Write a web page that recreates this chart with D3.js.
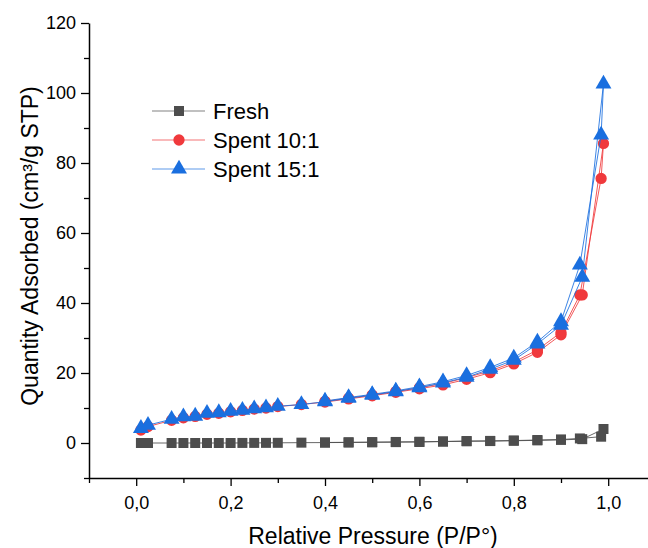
<!DOCTYPE html>
<html>
<head>
<meta charset="utf-8">
<script src="https://cdn.jsdelivr.net/npm/d3@7"></script>
<style>
  body { margin: 0; background: #fff; }
  text { font-family: "Liberation Sans", Arial, sans-serif; }
</style>
</head>
<body>
<div id="chart"></div>
<script>
// relative pressure points, adsorption branch then desorption branch
const pressureAds = [0.01, 0.025, 0.075, 0.1, 0.125, 0.15, 0.175, 0.2, 0.225, 0.25, 0.275, 0.3,
    0.35, 0.4, 0.45, 0.5, 0.55, 0.6, 0.65, 0.7, 0.75, 0.8, 0.85, 0.9, 0.945, 0.99];
const pressureDes = [0.985, 0.94, 0.9, 0.85, 0.8, 0.75, 0.7, 0.65, 0.6, 0.55, 0.5, 0.45, 0.4];

const freshAds = [0.0, 0.0, 0.0, 0.0, 0.0, 0.0, 0.0, 0.0, 0.02, 0.03, 0.04, 0.05,
    0.1, 0.12, 0.15, 0.2, 0.25, 0.3, 0.4, 0.5, 0.55, 0.65, 0.75, 0.9, 1.1, 4.0];
const freshDes = [1.8, 1.3, 1.0, 0.85, 0.7, 0.6, 0.55, 0.45, 0.35, 0.3, 0.25, 0.2, 0.15];

const spent10Ads = [3.7, 4.7, 6.5, 7.2, 7.6, 8.2, 8.5, 8.9, 9.3, 9.7, 10.0, 10.4,
    11.0, 11.7, 12.6, 13.5, 14.5, 15.5, 16.6, 18.2, 20.1, 22.6, 25.9, 30.9, 42.3, 85.6];
const spent10Des = [75.6, 42.3, 31.6, 26.6, 23.1, 20.6, 18.7, 17.0, 15.8, 14.7, 13.7, 12.8, 11.9];

const spent15Ads = [4.2, 5.1, 6.8, 7.5, 7.7, 8.5, 8.7, 9.1, 9.4, 9.8, 10.1, 10.5,
    11.0, 11.8, 12.8, 13.7, 14.7, 15.8, 17.2, 18.8, 21.1, 23.7, 28.3, 33.7, 47.4, 102.6];
const spent15Des = [88.0, 50.9, 34.7, 28.9, 24.3, 21.6, 19.3, 17.5, 16.1, 14.9, 13.9, 13.0, 12.0];

const seriesNames = ["Fresh", "Spent 10:1", "Spent 15:1"];
const seriesColors = ["#4d4d4d", "#f0393c", "#1a6fdf"];
const xTicks = [0, 0.2, 0.4, 0.6, 0.8, 1.0];
const yTicks = [0, 20, 40, 60, 80, 100, 120];

const width = 648, height = 548;
const margin = {top: 23, left: 89, bottom: 70};

const svg = d3.select("#chart").append("svg")
    .attr("width", width)
    .attr("height", height);

const xScale = d3.scaleLinear()
    .domain([-0.1, 1.1])
    .range([margin.left, margin.left + 566.4]);

const yScale = d3.scaleLinear()
    .domain([-10, 120])
    .range([height - margin.bottom, margin.top]);

const comma = d => d3.format(".1f")(d).replace(".", ",");

// minor ticks first so the major ones sit on top
svg.append("g")
    .attr("transform", `translate(0,${yScale(-10)})`)
    .call(d3.axisBottom(xScale).tickValues([-0.1, 0.1, 0.3, 0.5, 0.7, 0.9]).tickSize(5).tickFormat(""))
    .call(g => g.select(".domain").remove());

svg.append("g")
    .attr("transform", `translate(${xScale(-0.1)},0)`)
    .call(d3.axisLeft(yScale).tickValues([-10, 10, 30, 50, 70, 90, 110]).tickSize(5).tickFormat(""))
    .call(g => g.select(".domain").remove());

svg.append("g")
    .attr("transform", `translate(0,${yScale(-10)})`)
    .call(d3.axisBottom(xScale).tickValues(xTicks).tickSize(8).tickPadding(10).tickSizeOuter(0).tickFormat(comma));

svg.append("g")
    .attr("transform", `translate(${xScale(-0.1)},0)`)
    .call(d3.axisLeft(yScale).tickValues(yTicks).tickSize(8).tickPadding(5).tickSizeOuter(0));

svg.selectAll(".domain").attr("stroke", "#000").attr("stroke-width", 1.5);
svg.selectAll(".tick line").attr("stroke", "#000").attr("stroke-width", 1.3);
svg.selectAll(".tick text").style("font-size", "18px").attr("fill", "#000")
    .style("font-family", "'Liberation Sans', Arial, sans-serif");

svg.append("text")
    .attr("x", 373)
    .attr("y", 544)
    .attr("text-anchor", "middle")
    .style("font-size", "23px")
    .text("Relative Pressure (P/P°)");

svg.append("text")
    .attr("transform", `translate(38,246) rotate(-90)`)
    .attr("text-anchor", "middle")
    .style("font-size", "23px")
    .text("Quantity Adsorbed (cm³/g STP)");

const symbols = [d3.symbolSquare, d3.symbolCircle, d3.symbolTriangle];
const symbolSizes = [100, 100, 110];

const series = [
    {ads: freshAds, des: freshDes},
    {ads: spent10Ads, des: spent10Des},
    {ads: spent15Ads, des: spent15Des}
].map((s, i) => ({
    name: seriesNames[i],
    color: seriesColors[i],
    points: pressureAds.map((p, j) => [p, s.ads[j]])
        .concat(pressureDes.map((p, j) => [p, s.des[j]]))
}));

const line = d3.line()
    .x(d => xScale(d[0]))
    .y(d => yScale(d[1]));

series.forEach((s, i) => {
    const g = svg.append("g");
    g.append("path")
        .datum(s.points)
        .attr("d", line)
        .attr("fill", "none")
        .attr("stroke", s.color)
        .attr("stroke-opacity", 0.85)
        .attr("stroke-width", 1);
    g.selectAll("path.pt")
        .data(s.points)
        .join("path")
        .attr("class", "pt")
        .attr("d", d3.symbol().type(symbols[i]).size(symbolSizes[i]))
        .attr("transform", d => `translate(${xScale(d[0])},${yScale(d[1])})`)
        .attr("fill", s.color);
});

// legend
const legend = svg.append("g");
seriesNames.forEach((name, i) => {
    const y = 111 + i * 29;
    legend.append("line")
        .attr("x1", 152).attr("x2", 205)
        .attr("y1", y).attr("y2", y)
        .attr("stroke", seriesColors[i])
        .attr("stroke-opacity", 0.7)
        .attr("stroke-width", 1.2);
    legend.append("path")
        .attr("d", d3.symbol().type(symbols[i]).size(symbolSizes[i]))
        .attr("transform", `translate(179,${y})`)
        .attr("fill", seriesColors[i]);
    legend.append("text")
        .attr("x", 213)
        .attr("y", y + 8)
        .style("font-size", "22px")
        .text(name);
});
</script>
</body>
</html>
